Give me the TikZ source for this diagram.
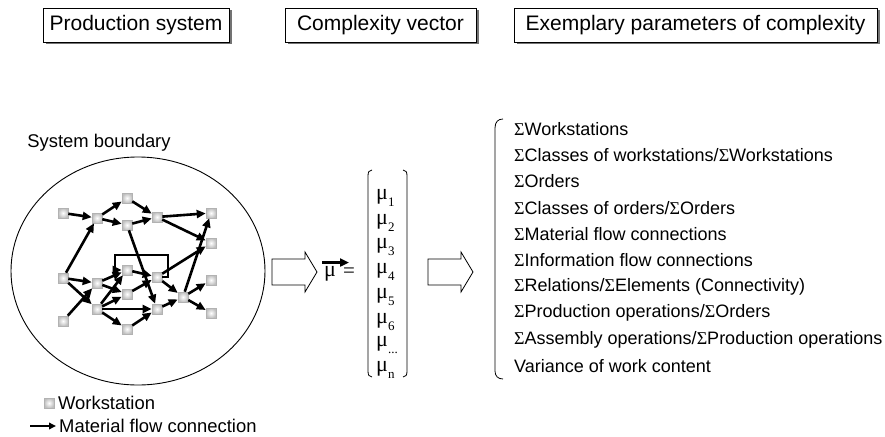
\documentclass[tikz,border=0pt]{standalone}
\usepackage{fontspec}
\setmainfont{Liberation Sans}
\newfontfamily\symbfont{Liberation Serif}
\usetikzlibrary{arrows.meta,shadows,shapes.geometric}

% Greek letters in the serif face
\newcommand\Sg{{\symbfont Σ}}
\newcommand\muent[1]{{\symbfont μ}\raisebox{-0.3em}{\fontsize{13}{13}\selectfont\symbfont #1}}

\begin{document}
\begin{tikzpicture}[x=1pt,y=-1pt,
  header/.style={draw=black,line width=0.8pt,fill=white,minimum height=34pt,
    inner sep=0pt,font=\fontsize{21}{24}\selectfont,
    drop shadow={shadow xshift=2.5pt,shadow yshift=-2.5pt,fill=black!55,opacity=1}},
  ws/.style={rectangle,minimum size=10pt,inner sep=0pt,draw=gray!60,line width=0.6pt,
    inner color=white,outer color=gray!50},
  flow/.style={line width=2.6pt,-{Triangle[length=9pt,width=8pt]}},
  txt/.style={font=\fontsize{18.4}{20}\selectfont,inner sep=0pt},
  partxt/.style={font=\fontsize{18}{20}\selectfont,inner sep=0pt,anchor=west},
  mu/.style={font=\fontsize{22}{23}\selectfont\symbfont,inner sep=0pt},
  blockarrow/.style={draw=black,line width=0.8pt,fill=white},
]
\useasboundingbox (0,0) rectangle (885,436);

% ---------------- headers ----------------
\node[header,minimum width=186pt] (hprod) at (136,25) {Production system};
\node[header,minimum width=191pt] (hvec)  at (380.5,25) {Complexity vector};
\node[header,minimum width=363pt] (hpar)  at (695.5,25) {Exemplary parameters of complexity};

% ---------------- production system ----------------
\node[txt] (boundlabel) at (99,143) {System boundary};
\node[draw,ellipse,line width=0.9pt,minimum width=254pt,minimum height=228pt,inner sep=0pt]
  (boundary) at (138,271) {};

\node[ws] (wa) at (63,213) {};
\node[ws] (wb) at (97,218) {};
\node[ws] (wc) at (127,198) {};
\node[ws] (wd) at (127,225) {};
\node[ws] (we) at (157,217) {};
\node[ws] (wf) at (211,213) {};
\node[ws] (wg) at (211,243) {};
\node[ws] (wh) at (63,278) {};
\node[ws] (wi) at (97,283) {};
\node[ws] (wj) at (127,270) {};
\node[ws] (wk) at (157,277) {};
\node[ws] (wl) at (127,294) {};
\node[ws] (wm) at (97,309) {};
\node[ws] (wn) at (157,309) {};
\node[ws] (wo) at (183,297) {};
\node[ws] (wp) at (211,280) {};
\node[ws] (wq) at (211,313) {};
\node[ws] (wr) at (63,321) {};
\node[ws] (ws) at (127,329) {};

\draw[flow] (wa) -- (wb);
\draw[flow] (wb) -- (wc);
\draw[flow] (wb) -- (wd);
\draw[flow] (wc) -- (we);
\draw[flow] (wd) -- (we);
\draw[flow] (we) -- (wf);
\draw[flow] (we) -- (wg);
\draw[flow] (wh) -- (wb);
\draw[flow] (wh) -- (wi);
\draw[flow] (wh) -- (wm);
\draw[flow] (wr) -- (wi);
\draw[flow] (wi) -- (wj);
\draw[flow] (wi) -- (wl);
\draw[flow] (wm) -- (wj);
\draw[flow] (wm) -- (wl);
\draw[flow] (wm) -- (wn);
\draw[flow] (wm) -- (ws);
\draw[flow] (ws) -- (wn);
\draw[flow] (wl) -- (wk);
\draw[flow] (wj) -- (wk);
\draw[flow] (wd) -- (wn);
\draw[flow] (wk) -- (wo);
\draw[flow] (wn) -- (wo);
\draw[flow] (wo) -- (wp);
\draw[flow] (wo) -- (wq);
\draw[flow] (wo) -- (wf);
\draw[flow] (wk) -- (wg);
% feedback loop
\coordinate (loopr) at (168,255);
\coordinate (loopl) at (115,270);
\draw[flow] (wk.east) -| (loopr) -| (loopl) -- (wj.west);

% legend
\node[ws] (legws) at (49,403) {};
\node[txt,anchor=west] (legwstxt) at (58,403) {Workstation};
\coordinate (legarra) at (30,426);
\coordinate (legarrb) at (56,426);
\draw[line width=2pt,-{Triangle[length=7pt,width=6.5pt]}] (legarra) -- (legarrb);
\node[txt,anchor=west] (legflowtxt) at (59,426) {Material flow connection};

% ---------------- block arrows ----------------
\draw[blockarrow] (272,259) -- (305,259) -- (305,252) -- (317,272) -- (305,292)
  -- (305,285) -- (272,285) -- cycle;
\draw[blockarrow] (428,259) -- (461,259) -- (461,252) -- (473,272) -- (461,292)
  -- (461,285) -- (428,285) -- cycle;

% ---------------- complexity vector ----------------
\node[mu] (muvec) at (330,274) {μ};
\node[font=\fontsize{21}{22}\selectfont\symbfont,inner sep=0pt] (eq) at (349,273) {=};
\coordinate (vecl) at (322,262.5);
\coordinate (vecr) at (349,262.5);
\draw[line width=2.4pt,-{Triangle[length=9pt,width=8pt]}] (vecl) -- (vecr);

% parentheses
\draw[line width=0.8pt] (372,170) .. controls (369,170) and (368,172) .. (368,176)
  -- (368,371) .. controls (368,375) and (369,377) .. (372,377);
\draw[line width=0.8pt] (403,170) .. controls (406,170) and (407,172) .. (407,176)
  -- (407,371) .. controls (407,375) and (406,377) .. (403,377);

\node[mu,anchor=west] (mu1) at (376,198) {\muent{1}};
\node[mu,anchor=west] (mu2) at (376,223) {\muent{2}};
\node[mu,anchor=west] (mu3) at (376,247) {\muent{3}};
\node[mu,anchor=west] (mu4) at (376,272) {\muent{4}};
\node[mu,anchor=west] (mu5) at (376,297) {\muent{5}};
\node[mu,anchor=west] (mu6) at (376,322) {\muent{6}};
\node[mu,anchor=west] (mu7) at (376,345) {\muent{...}};
\node[mu,anchor=west] (mu8) at (376,370) {\muent{n}};

% ---------------- parameters ----------------
\draw[line width=0.8pt] (503,119) .. controls (498,119) and (495,122) .. (495,128)
  -- (495,371) .. controls (495,376) and (498,379) .. (503,379);

\node[partxt] (p1)  at (514,129) {\Sg Workstations};
\node[partxt] (p2)  at (514,155) {\Sg Classes of workstations/\Sg Workstations};
\node[partxt] (p3)  at (514,181) {\Sg Orders};
\node[partxt] (p4)  at (514,208) {\Sg Classes of orders/\Sg Orders};
\node[partxt] (p5)  at (514,234) {\Sg Material flow connections};
\node[partxt] (p6)  at (514,260) {\Sg Information flow connections};
\node[partxt] (p7)  at (514,287) {\Sg Relations/\Sg Elements (Connectivity)};
\node[partxt] (p8)  at (514,313) {\Sg Production operations/\Sg Orders};
\node[partxt] (p9)  at (514,340) {\Sg Assembly operations/\Sg Production operations};
\node[partxt] (p10) at (514,366) {Variance of work content};
\end{tikzpicture}
\end{document}
